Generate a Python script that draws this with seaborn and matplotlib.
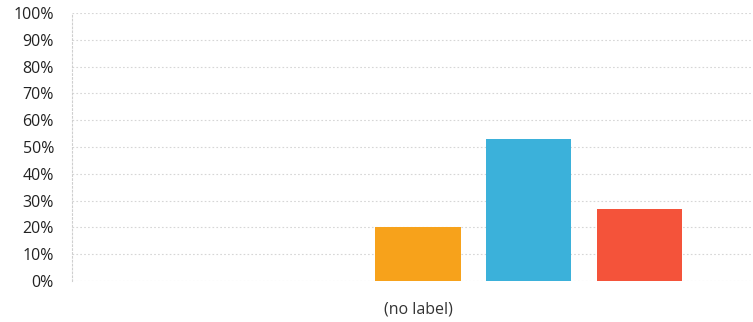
import matplotlib
matplotlib.use("Agg")
import matplotlib.pyplot as plt
import seaborn as sns
import pandas as pd
from matplotlib.ticker import FuncFormatter, MultipleLocator

# Survey answers: one question, share of respondents per option (percent)
categories = ["(no label)"] * 5
options = ["Option 1", "Option 2", "Option 3", "Option 4", "Option 5"]
shares = [0, 0, 20, 53, 27]
option_colors = ["#bbbbbb", "#999999", "#F7A21B", "#3BB1DA", "#F4533A"]

df = pd.DataFrame({"question": categories, "option": options, "share": shares})

sns.set_theme(style="white")
plt.rcParams["font.family"] = ["Open Sans", "DejaVu Sans"]

W, H, DPI = 753, 322, 100
fig = plt.figure(figsize=(W / DPI, H / DPI), dpi=DPI)
ax = fig.add_axes([72 / W, 41 / H, 692 / W, 268 / H])

sns.barplot(
    data=df, x="question", y="share", hue="option",
    palette=dict(zip(options, option_colors)), saturation=1,
    width=0.8, gap=0.23, linewidth=0, legend=False, ax=ax,
)

ax.set_ylim(0, 100)
ax.set_xlim(-0.5, 0.5)
ax.yaxis.set_major_locator(MultipleLocator(10))
ax.yaxis.set_major_formatter(FuncFormatter(lambda v, _: f"{v:.0f}%"))
ax.grid(axis="y", color="#d6d6d6", linestyle=(0, (1.5, 2)), linewidth=0.8)
ax.set_axisbelow(True)

for side in ["top", "right", "bottom"]:
    ax.spines[side].set_visible(False)
ax.spines["left"].set_color("#cfcfcf")
ax.spines["left"].set_linestyle((0, (1.5, 2)))
ax.spines["left"].set_linewidth(0.8)

ax.tick_params(axis="y", length=0, pad=13, labelsize=11.5, labelcolor="#222222")
ax.tick_params(axis="x", length=0, pad=15, labelsize=11.5, labelcolor="#333333")
for lbl in ax.get_yticklabels():
    lbl.set_fontweight("medium")
ax.set_xlabel("")
ax.set_ylabel("")

fig.savefig("out.png", dpi=DPI)
